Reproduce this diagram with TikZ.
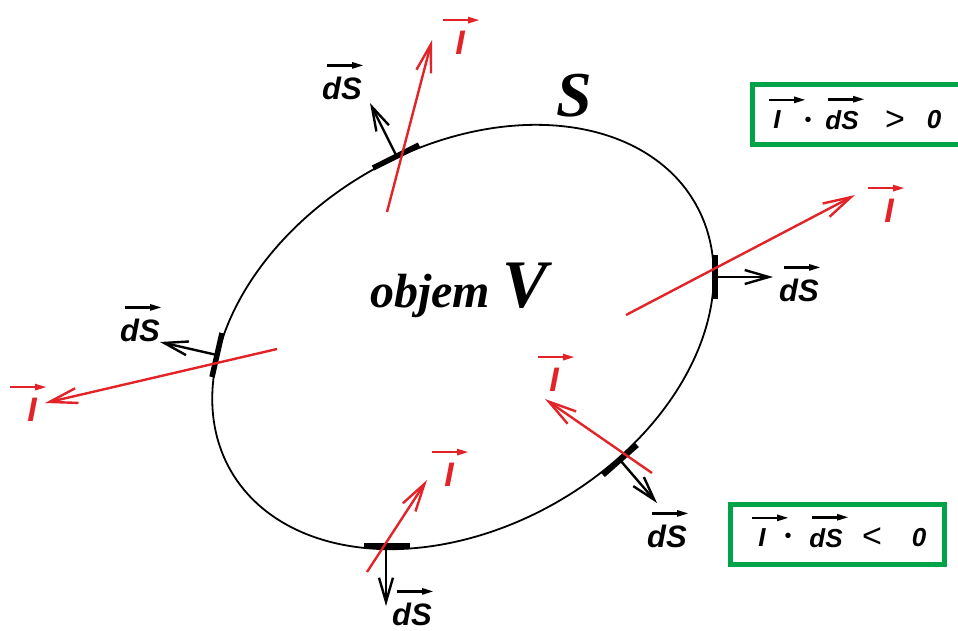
\documentclass[tikz,border=0pt]{standalone}
\usepackage{fontspec}
\setmainfont{Liberation Sans}
\newfontfamily\tnr{Liberation Serif}
\usetikzlibrary{arrows.meta}
\definecolor{vred}{RGB}{226,35,40}
\definecolor{bgreen}{RGB}{0,163,72}
\newcommand\vlab[6]{% name, position, colour, font size, text, arrow x offset
  \node[vtext,text=#3,font=\fontsize{#4}{#4}\selectfont\bfseries\itshape] (#1) at (#2) {#5};
  \draw[ovarrow,draw=#3,fill=#3] ([shift={(#6,-11)}]#1.north) -- ++(37,0);}
\begin{document}
\begin{tikzpicture}[x=1pt,y=-1pt,
  curve/.style={line width=1.8pt},
  tickmark/.style={line width=5.5pt},
  dsvec/.style={line width=2.4pt,-{Straight Barb[length=24pt,width=14pt]}},
  ivec/.style={draw=vred,line width=2.4pt,-{Straight Barb[length=28pt,width=15pt]}},
  vtext/.style={inner sep=0pt},
  ovarrow/.style={line width=2.6pt,-{Triangle[length=12pt,width=6pt]}},
  gbox/.style={draw=bgreen,line width=5pt,inner sep=0pt},
  plain/.style={inner sep=0pt,font=\fontsize{26}{26}\selectfont\bfseries\itshape},
  relsign/.style={inner sep=0pt,font=\fontsize{34}{34}\selectfont\mdseries\upshape}]
\useasboundingbox (0,0) rectangle (958,630);

% surface S: ellipse, centre (463,337), semi-axes 268 and 190, tilted 30 degrees
\draw[curve] plot[domain=0:360, samples=120, smooth cycle, variable=\t]
  ({463 + 268*cos(\t)*0.866 + 190*sin(\t)*0.5}, {337 - 268*cos(\t)*0.5 + 190*sin(\t)*0.866});

% named points
\coordinate (t1) at (397,157); \coordinate (t1a) at (373,168); \coordinate (t1b) at (419,145);
\coordinate (t2) at (715,277); \coordinate (t2a) at (715,255); \coordinate (t2b) at (715,299);
\coordinate (t3) at (217,355); \coordinate (t3a) at (222,333); \coordinate (t3b) at (212,377);
\coordinate (t4) at (620,460); \coordinate (t4a) at (603,475); \coordinate (t4b) at (637,445);
\coordinate (t5) at (386,546); \coordinate (t5a) at (364,546); \coordinate (t5b) at (410,546);
\coordinate (n1) at (370,103); \coordinate (n2) at (773,277); \coordinate (n3) at (160,342);
\coordinate (n4) at (657,503); \coordinate (n5) at (386,606);
\coordinate (r1s) at (387,212); \coordinate (r1e) at (432,40);
\coordinate (r2s) at (626,315); \coordinate (r2e) at (855,195);
\coordinate (r3s) at (277,349); \coordinate (r3e) at (45,403);
\coordinate (r4s) at (652,473); \coordinate (r4e) at (545,399);
\coordinate (r5s) at (367,572); \coordinate (r5e) at (427,480);

% surface elements
\foreach \k in {1,...,5} {\draw[tickmark] (t\k a) -- (t\k b);}
% normal vectors dS
\foreach \k in {1,...,5} {\draw[dsvec] (t\k) -- (n\k);}
% vectors I
\foreach \k in {1,...,5} {\draw[ivec] (r\k s) -- (r\k e);}

% labels
\vlab{ds1}{342,88}{black}{31}{dS}{-15}
\vlab{i1}{460,43}{vred}{34}{I}{-17}
\vlab{ds2}{799,290}{black}{31}{dS}{-15}
\vlab{i2}{889,211}{vred}{34}{I}{-21}
\vlab{ds3}{140,330}{black}{31}{dS}{-15}
\vlab{i3}{32,410}{vred}{34}{I}{-22}
\vlab{ds4}{667,536}{black}{31}{dS}{-15}
\vlab{i4}{554,380}{vred}{34}{I}{-16}
\vlab{ds5}{412,614}{black}{31}{dS}{-15}
\vlab{i5}{449,475}{vred}{34}{I}{-17}

\node[inner sep=0pt,font=\tnr\bfseries\itshape\fontsize{64}{64}\selectfont] (S) at (574,96) {S};
\node[inner sep=0pt,anchor=base west,font=\tnr\bfseries\itshape] (V) at (370,307)
  {\fontsize{48}{48}\selectfont objem \fontsize{68}{68}\selectfont V};

% boxes
\node[gbox,minimum width=220pt,minimum height=60pt] (box1) at (862.5,114.5) {};
\vlab{b1i}{777,120}{black}{26}{I}{-8}
\node[plain,font=\fontsize{20}{20}\selectfont] (b1dot) at (808,122) {•};
\vlab{b1ds}{842,120}{black}{26}{dS}{-14}
\node[relsign] (b1rel) at (895,121) {>};
\node[plain] (b1zero) at (934,120) {0};

\node[gbox,minimum width=214pt,minimum height=60pt] (box2) at (837.5,534.5) {};
\vlab{b2i}{762,538}{black}{26}{I}{-10}
\node[plain,font=\fontsize{20}{20}\selectfont] (b2dot) at (788,538) {•};
\vlab{b2ds}{826,538}{black}{26}{dS}{-14}
\node[relsign] (b2rel) at (872,538) {<};
\node[plain] (b2zero) at (919,538) {0};
\end{tikzpicture}
\end{document}
